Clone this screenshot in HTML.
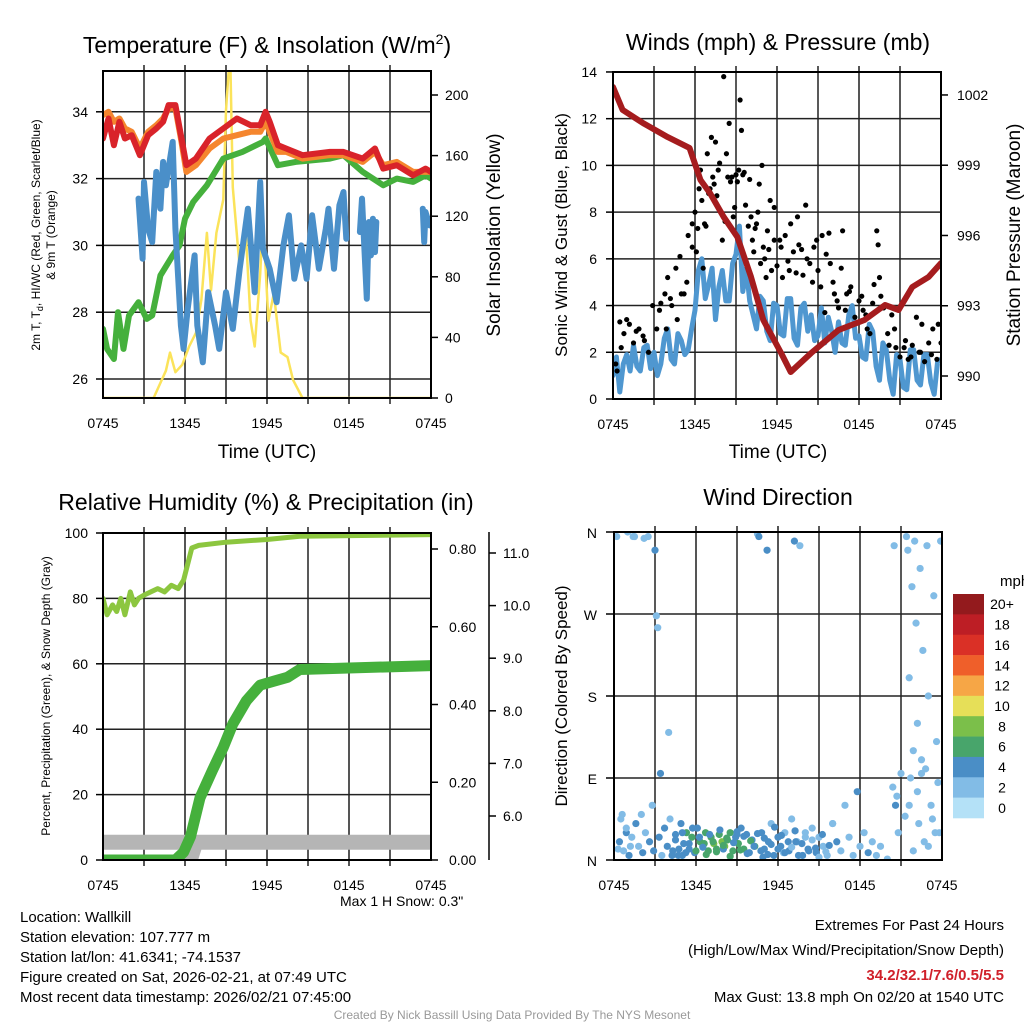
<!DOCTYPE html>
<html><head><meta charset="utf-8"><title>Mesonet Meteogram</title>
<style>
body{margin:0;background:#fff;}
svg{display:block;font-family:"Liberation Sans",sans-serif;}
</style></head>
<body>
<svg id="root" width="1024" height="1024" viewBox="0 0 1024 1024">
<defs>
<clipPath id="c1"><rect x="103" y="71" width="328" height="327"/></clipPath>
<clipPath id="c2"><rect x="613" y="72" width="328" height="327"/></clipPath>
<clipPath id="c3"><rect x="103" y="533" width="328" height="327"/></clipPath>
<clipPath id="c4"><rect x="614" y="532" width="328" height="328"/></clipPath>
</defs>
<g id="grid"></g>
<g id="marks"></g>
<g id="frames"></g>
<g font-size="23" text-anchor="middle" fill="#000">
<text x="267" y="53">Temperature (F) &amp; Insolation (W/m<tspan font-size="14" dy="-9">2</tspan><tspan dy="9">)</tspan></text>
<text x="778" y="50">Winds (mph) &amp; Pressure (mb)</text>
<text x="266" y="510">Relative Humidity (%) &amp; Precipitation (in)</text>
<text x="778" y="505">Wind Direction</text>
</g>
<g font-size="19" text-anchor="middle">
<text x="267" y="458">Time (UTC)</text>
<text x="778" y="458">Time (UTC)</text>
<text transform="translate(500,235) rotate(-90)">Solar Insolation (Yellow)</text>
<text transform="translate(567,235) rotate(-90)" font-size="17">Sonic Wind &amp; Gust (Blue, Black)</text>
<text transform="translate(1020,235) rotate(-90)">Station Pressure (Maroon)</text>
<text transform="translate(567,696) rotate(-90)" font-size="17">Direction (Colored By Speed)</text>
</g>
<g font-size="12" text-anchor="middle">
<text transform="translate(40,235) rotate(-90)">2m T, T<tspan font-size="9" dy="3">d</tspan><tspan dy="-3">, HI/WC (Red, Green, Scarlet/Blue)</tspan></text>
<text transform="translate(55,235) rotate(-90)">&amp; 9m T (Orange)</text>
<text transform="translate(50,696) rotate(-90)">Percent, Precipitation (Green), &amp; Snow Depth (Gray)</text>
</g>
<g font-size="14">
<text x="340" y="906">Max 1 H Snow: 0.3"</text>
<text x="1000" y="586" font-size="15">mph</text>
</g>
<g font-size="15">
<text x="20" y="922">Location: Wallkill</text>
<text x="20" y="942">Station elevation: 107.777 m</text>
<text x="20" y="962">Station lat/lon: 41.6341; -74.1537</text>
<text x="20" y="982">Figure created on Sat, 2026-02-21, at 07:49 UTC</text>
<text x="20" y="1002">Most recent data timestamp: 2026/02/21 07:45:00</text>
</g>
<g font-size="15" text-anchor="end">
<text x="1004" y="930">Extremes For Past 24 Hours</text>
<text x="1004" y="955">(High/Low/Max Wind/Precipitation/Snow Depth)</text>
<text x="1004" y="980" fill="#d0202a" font-weight="bold">34.2/32.1/7.6/0.5/5.5</text>
<text x="1004" y="1002">Max Gust: 13.8 mph On 02/20 at 1540 UTC</text>
</g>
<text x="512" y="1019" font-size="12" fill="#999" text-anchor="middle">Created By Nick Bassill Using Data Provided By The NYS Mesonet</text>
</svg>
<script>
// ---------- data ----------
const timeTicks = ["0745","1345","1945","0145","0745"];
const tempTickVals = [26,28,30,32,34];
const solarTickVals = [0,40,80,120,160,200];
const windTickVals = [0,2,4,6,8,10,12,14];
const presTickVals = [990,993,996,999,1002];
const rhTickVals = [0,20,40,60,80,100];
const precipTickVals = [0,0.2,0.4,0.6,0.8];
const snowTickVals = [6,7,8,9,10,11];
const dirTickLabels = ["N","E","S","W","N"];
const cbLabels = ["20+","18","16","14","12","10","8","6","4","2","0"];
const cbColors = ["#931a1d","#bd1e25","#da3026","#ef5f2a","#f6a646","#e6df58","#7bbf4a","#48a56b","#4a8ec6","#82bce6","#b4e1f7"];

const tRedH = [0,0.4,0.8,1.2,1.6,2.1,2.7,3.3,3.9,4.4,4.8,5.3,5.7,6.1,6.8,7.8,8.8,9.8,10.8,11.5,11.9,12.2,12.8,13.4,14.6,16.6,17.6,19.0,19.9,20.5,21.5,22.7,23.6,24];
const tRed = [33.2,33.8,33.0,33.7,33.2,33.3,32.7,33.3,33.5,33.7,34.2,34.2,33.3,32.4,32.6,33.2,33.5,33.8,33.6,33.6,34.0,33.7,33.0,32.9,32.7,32.8,32.8,32.6,32.9,32.3,32.4,32.1,32.3,32.2];
const tOrange = [33.9,34.0,33.7,33.8,33.5,33.4,32.9,33.4,33.6,33.8,34.1,34.1,33.2,32.2,32.4,32.9,33.2,33.3,33.4,33.4,33.7,33.4,32.8,32.8,32.6,32.7,32.7,32.5,32.8,32.4,32.5,32.2,32.2,32.2];
const tGreenH = [0,0.3,0.8,1.1,1.5,1.9,2.6,3.2,3.6,4.2,5.1,5.6,6.0,6.6,7.6,8.8,10.2,11.7,11.9,12.8,14.1,16.6,17.6,19.0,20.5,21.5,22.7,23.6,24];
const tGreen = [27.5,26.9,26.6,28.0,26.9,27.9,28.3,27.8,27.9,29.1,29.7,30.0,30.8,31.3,31.8,32.6,32.8,33.1,33.2,32.4,32.5,32.6,32.7,32.2,31.8,32.0,31.9,32.1,32.0];
const wcH = [2.6,2.9,3.0,3.3,3.6,3.9,4.2,4.4,4.6,5.1,5.3,5.7,5.9,6.2,6.7,6.9,7.3,7.7,8.2,8.5,9.0,9.5,10.0,10.6,11.1,11.5,11.7,12.2,12.7,13.2,13.6,14.0,14.5,14.9,15.3,15.8,16.3,16.5,16.9,17.3,17.6,17.8];
const wcVal = [31.4,29.6,31.9,30.5,30.1,32.2,31.1,32.5,31.8,33.1,30.5,27.6,26.9,28.1,29.7,27.6,26.5,28.6,27.6,26.9,28.6,27.5,29.3,31.1,28.6,31.9,29.9,29.3,28.3,30.0,30.9,29.0,30.0,29.0,30.9,29.3,30.5,31.1,29.3,31.2,31.6,30.2];
const wcLateH = [18.8,18.95,19.3,19.45,19.6,19.75,19.9,20.0];
const wcLate = [30.4,31.4,28.4,30.7,29.7,30.8,29.8,30.7];
const wcEndH = [23.4,23.5,23.6,23.9,24];
const wcEnd = [31.1,30.1,31.0,30.6,30.8];
const solarH = [0,3.7,4.6,4.9,5.3,5.8,6.3,6.8,7.2,7.6,7.9,8.3,8.8,9.0,9.3,9.5,10.0,10.4,10.8,11.1,11.5,11.7,12.1,12.5,13.0,13.5,13.9,14.6,24];
const solarVal = [0,0,18,30,17,22,34,43,65,109,71,109,131,190,230,139,86,117,51,34,82,119,51,69,30,27,12,0,0];

const windH = [0,0.25,0.5,0.75,1,1.25,1.5,1.75,2,2.25,2.5,2.75,3,3.25,3.5,3.75,4,4.25,4.5,4.75,5,5.25,5.5,5.75,6,6.25,6.5,6.75,7,7.25,7.5,7.75,8,8.25,8.5,8.75,9,9.25,9.5,9.75,10,10.25,10.5,10.75,11,11.25,11.5,11.75,12,12.25,12.5,12.75,13,13.25,13.5,13.75,14,14.25,14.5,14.75,15,15.25,15.5,15.75,16,16.25,16.5,16.75,17,17.25,17.5,17.75,18,18.25,18.5,18.75,19,19.25,19.5,19.75,20,20.25,20.5,20.75,21,21.25,21.5,21.75,22,22.25,22.5,22.75,23,23.25,23.5,23.75,24];
const windVal = [1.0,1.8,0.3,1.5,1.9,1.2,2.3,1.4,1.2,2.2,2.3,1.3,2.0,1.0,1.5,2.6,3.0,1.7,1.5,2.8,2.5,1.9,2.1,3.0,3.8,5.5,6.0,4.3,4.9,5.6,3.4,4.8,5.5,4.2,4.2,5.8,6.2,7.4,4.6,5.6,4.2,3.6,3.0,4.4,4.2,2.9,2.5,4.1,4.0,2.8,2.7,4.3,4.3,2.6,2.3,3.9,4.1,2.9,3.6,2.5,2.7,3.9,2.4,3.5,2.9,2.0,3.3,2.4,2.3,3.6,4.0,2.6,2.7,1.8,1.7,3.2,2.9,1.4,0.8,2.4,2.1,0.8,0.2,1.9,1.7,0.5,0.4,2.1,2.1,0.8,0.6,1.9,1.9,0.7,0.2,1.6,1.7];
const presH = [0,0.7,2.2,4,5.6,6.4,7.1,8.1,9.1,10.1,11,12.3,13,14.5,16.5,18.4,19.9,20.9,21.9,23.1,24];
const presVal = [1002.34,1001.36,1000.80,1000.20,999.74,998.37,997.81,996.79,995.93,994.23,992.39,990.98,990.17,990.98,991.96,992.39,993.03,992.82,993.80,994.23,994.82];
const gustH = [0.2,0.5,0.8,1.2,1.5,1.9,2.3,2.6,2.9,3.2,3.5,3.8,4.0,4.3,4.6,4.9,5.2,5.5,5.8,6.1,6.3,6.5,6.7,6.9,7.1,7.3,7.5,7.7,7.9,8.1,8.3,8.5,8.7,8.9,9.1,9.3,9.5,9.7,9.9,10.1,10.3,10.5,10.7,10.9,11.1,11.3,11.5,11.8,12.0,12.3,12.6,12.9,13.2,13.5,13.8,14.1,14.4,14.7,15.0,15.3,15.6,15.9,16.2,16.5,16.8,17.1,17.4,17.7,18.0,18.3,18.6,19.0,19.3,19.5,19.8,20.1,20.4,20.7,21.0,21.3,21.6,21.9,22.2,22.5,22.8,23.1,23.4,23.7,24.0,
 5.8,6.0,6.2,6.4,6.6,6.8,7.0,7.2,7.4,7.6,7.8,8.0,8.2,8.4,8.6,8.8,9.0,9.2,9.4,9.6,10.0,10.2,10.4,10.6,10.8,11.0,11.2,11.4,11.6,11.8,12.2,12.4,12.8,13.0,13.4,13.6,13.9,14.2,14.6,14.9,15.2,15.5,15.8,16.1,16.4,16.7,17.0,17.3,17.6,18.2,18.5,18.8,19.1,19.4,19.6,20.2,20.6,21.4,21.8,22.4,22.6,23.3,23.8,3.4,3.9,4.2,4.7,5.0,5.4,1.0,1.7,2.2,0.3,0.6];
const gustVal = [1.5,3.3,2.8,3.2,2.4,3.0,2.5,2.0,4.0,3.0,4.1,4.5,5.2,4.0,5.6,6.1,4.5,7.0,6.5,6.3,9.0,8.5,7.5,10.5,9.0,9.5,11.0,9.8,8.0,13.8,10.5,11.8,9.5,8.2,9.3,12.8,9.6,8.3,7.4,7.8,6.3,7.5,9.2,10.0,6.0,7.2,8.5,6.8,5.7,6.5,7.0,5.5,6.3,7.8,6.4,8.3,5.8,6.5,5.5,7.0,6.2,5.8,4.5,3.9,7.2,4.5,4.8,3.5,4.2,3.8,3.0,4.1,7.2,5.2,3.9,2.8,3.6,2.2,1.8,2.2,1.7,2.3,3.5,2.0,1.6,2.4,3.0,1.7,2.4,
 7.5,8.0,7.3,9.8,5.6,7.4,8.8,11.2,9.2,8.7,10.1,6.8,7.6,9.5,9.3,7.8,9.6,9.8,11.5,9.7,9.4,6.8,7.3,8.0,5.8,6.5,5.2,6.4,5.5,8.2,6.8,5.2,5.9,7.5,5.4,6.6,5.3,6.0,5.0,6.8,4.8,3.7,7.1,5.0,4.2,5.6,3.8,4.6,3.2,4.4,3.6,2.8,4.9,6.6,4.4,2.3,3.0,2.5,1.8,2.0,3.2,1.9,3.2,3.8,3.0,4.3,3.4,4.5,5.0,3.4,2.9,2.7,1.2,2.2];

const rhH = [0,0.3,0.7,1,1.3,1.6,2,2.3,2.6,3,3.5,4,4.5,5,5.5,5.9,6.5,7,9,12,14.4,24];
const rhVal = [80,75,78,76,80,75,82,78,80,81,82,83,82,84,83,85.6,95.4,96.2,97.2,98,99,99.5];
const precipH = [0,5.3,5.9,6.4,7.1,8,8.8,9.5,10.5,11.5,12.5,13.5,14.4,24];
const precipVal = [0,0,0.02,0.06,0.16,0.23,0.29,0.35,0.41,0.45,0.46,0.47,0.49,0.5];
const snowH = [0,6.0,6.4,6.8,24];
const snowVal = [5.5,5.5,5.18,5.5,5.5];

const dirH = [0.2,0.4,0.5,0.7,0.9,1.0,1.1,1.3,1.4,1.6,1.8,2.0,2.1,2.3,2.5,2.6,2.8,2.9,3.1,3.2,3.3,3.5,3.7,3.9,4.1,4.3,4.5,4.7,4.9,5.1,5.3,5.5,5.7,5.9,6.1,6.3,6.5,6.7,6.9,7.1,7.3,7.5,7.7,7.9,8.1,8.3,8.5,8.7,8.9,9.1,9.3,9.5,9.7,9.9,10.1,10.3,10.5,10.6,10.8,11.0,11.3,11.5,11.7,12.0,12.2,12.5,12.8,13.0,13.2,13.4,13.6,13.8,14.0,14.2,14.5,14.8,15.0,15.3,15.6,16.0,16.3,16.6,16.9,17.2,17.5,17.8,18.0,18.3,18.6,18.9,19.2,19.5,20.0,20.4,20.6,20.8,21.0,21.4,21.5,21.6,21.7,21.8,21.9,22.0,22.1,22.2,22.3,22.4,22.5,22.6,22.7,22.9,23.0,23.2,23.4,23.6,23.8,23.9,1.5,2.2,3.0,3.4,5.0,6.6,8.0,9.0,10.9,11.2,12.4,13.3,20.5,20.7,22.8,23.5,
 4.0,4.25,4.5,4.75,5.0,5.25,5.5,5.75,6.0,6.25,6.5,6.75,7.0,7.25,7.5,7.75,8.0,8.25,8.5,8.75,9.0,9.25,9.5,9.75,10.0,10.25,10.5,10.75,11.0,11.25,11.5,11.75,12.0,12.25,12.5,12.75,13.0,13.25,13.5,13.75,14.0,14.25,14.5,14.75,15.0,15.25,15.5,15.75,16.0,0.3,0.6,0.9,1.2,21.3,21.6,21.9,22.2,22.5,23.0,23.3,23.7];
const dirVal = [355,20,45,10,30,360,5,25,355,40,15,50,8,30,355,20,60,10,268,255,25,5,35,15,45,10,28,5,40,18,30,12,25,8,35,20,15,30,10,25,18,12,28,20,15,22,30,10,25,18,35,12,28,8,22,15,358,355,30,12,20,40,5,25,15,30,10,45,350,20,345,5,30,12,35,8,25,15,5,40,20,10,60,25,5,75,15,30,8,20,5,15,1,80,60,30,95,355,340,200,90,300,10,350,260,150,40,320,110,230,20,345,180,60,290,130,30,350,355,353,340,95,5,18,12,28,3,340,8,20,345,70,100,30,140,
 5,22,12,30,8,18,35,10,25,14,6,28,20,9,33,16,24,4,19,31,11,26,7,21,15,29,10,24,6,17,36,12,27,8,20,14,32,5,18,25,10,22,13,3,28,9,16,40,12,50,35,15,48,60,120,75,95,15,45,85,20];
const dirSpd = [2,3,2,1,3,2,4,2,2,3,2,2,3,1,2,4,2,3,2,1,3,2,4,3,2,4,3,4,3,4,5,4,5,4,4,6,5,6,5,6,7,6,6,7,8,6,5,5,4,5,4,5,4,3,4,5,2,3,4,3,4,2,3,4,3,2,3,2,3,2,2,3,2,3,2,3,2,2,2,2,3,1,2,2,2,3,2,1,3,2,1,2,2,2,3,2,1,1,2,1,2,1,2,1,2,1,2,1,2,1,2,2,1,2,1,2,2,1,2,2,3,3,4,6,4,3,3,4,2,3,2,1,2,1,
 2,3,4,3,4,4,3,4,5,4,3,5,4,5,6,4,6,5,5,4,4,5,4,4,5,3,4,4,4,3,3,4,3,4,3,3,2,4,3,3,2,3,2,3,2,3,2,3,2,2,2,1,2,2,1,2,1,2,1,2,1];

// ---------- scales ----------
const x1 = h => 103 + h * 328 / 24;
const x2 = h => 613 + h * 328 / 24;
const x4 = h => 614 + h * 328 / 24;
const yT = v => 379 - (v - 26) * 33.4;
const yS = v => 398 - v * 1.515;
const yW = v => 399 - v * 23.36;
const yP = v => 376 - (v - 990) * 23.42;
const yR = v => 860 - v * 3.27;
const yPr = v => 860 - v * 388.75;
const ySn = v => 816 - (v - 6) * 52.6;
const yD = v => 860 - v * 328 / 360;

const NS = "http://www.w3.org/2000/svg";
const G = document.getElementById("grid"), M = document.getElementById("marks"), F = document.getElementById("frames"), R = document.getElementById("root");
function mk(tag, a, parent) { const e = document.createElementNS(NS, tag); for (const k in a) e.setAttribute(k, a[k]); parent.appendChild(e); return e; }

function line(x1_, y1_, x2_, y2_, stroke, w, parent, name) {
  const e = mk("line", {x1:x1_, y1:y1_, x2:x2_, y2:y2_, stroke:stroke, "stroke-width":w}, parent);
  
  
  return e;
}
function text(x, y, s, anchor, size, name) {
  const e = mk("text", {x:x, y:y, "text-anchor":anchor, "font-size":size}, R);
  e.textContent = s;
  
  
  return e;
}
function series(hs, vs, xf, yf, color, w, clip, name) {
  let d = "";
  for (let i = 0; i < hs.length; i++) {
    d += (i ? "L" : "M") + xf(hs[i]).toFixed(1) + " " + yf(vs[i]).toFixed(1);
  }
  const e = mk("path", {d:d, fill:"none", stroke:color, "stroke-width":w, "stroke-linejoin":"round", "stroke-linecap":"round", "clip-path":"url(#" + clip + ")"}, M);
  
  
  return e;
}

// ---------- panels ----------
const panels = [
  {L:103, R:431, T:71, B:398, xf:x1},
  {L:613, R:941, T:72, B:399, xf:x2},
  {L:103, R:431, T:533, B:860, xf:x1},
  {L:614, R:942, T:532, B:860, xf:x4}
];
panels.forEach(p => {
  for (let h = 3; h < 24; h += 3) {
    line(p.xf(h), p.T - 6, p.xf(h), p.B + 6, h % 6 === 0 ? "#555" : "#222", h % 6 === 0 ? 2 : 1.5, G, "vgrid");
  }
  const fr = mk("rect", {x:p.L, y:p.T, width:p.R - p.L, height:p.B - p.T, fill:"none", stroke:"#000", "stroke-width":2}, F);
  
  
  timeTicks.forEach((t, i) => {
    text(p.xf(i * 6), p.B + 30, t, "middle", 14, "x-tick-label");
  });
});

tempTickVals.forEach(v => {
  line(103, yT(v), 431, yT(v), "#222", 1.5, G, "temp-hgrid");
  text(88, yT(v) + 5, String(v), "end", 14, "temp-tick-label");
  line(96, yT(v), 103, yT(v), "#000", 1.5, F, "temp-tick");
});
solarTickVals.forEach(v => {
  text(445, yS(v) + 5, String(v), "start", 14, "solar-tick-label");
  line(431, yS(v), 438, yS(v), "#000", 1.5, F, "solar-tick");
});
windTickVals.forEach(v => {
  if (v > 0 && v < 14) line(613, yW(v), 941, yW(v), "#222", 1.5, G, "wind-hgrid");
  text(597, yW(v) + 5, String(v), "end", 14, "wind-tick-label");
  line(606, yW(v), 613, yW(v), "#000", 1.5, F, "wind-tick");
});
presTickVals.forEach(v => {
  text(957, yP(v) + 5, String(v), "start", 14, "pressure-tick-label");
  line(941, yP(v), 948, yP(v), "#000", 1.5, F, "pressure-tick");
});
rhTickVals.forEach(v => {
  if (v > 0 && v < 100) line(103, yR(v), 431, yR(v), "#222", 1.5, G, "rh-hgrid");
  text(88, yR(v) + 5, String(v), "end", 14, "rh-tick-label");
  line(96, yR(v), 103, yR(v), "#000", 1.5, F, "rh-tick");
});
precipTickVals.forEach(v => {
  text(449, yPr(v) + 5, v.toFixed(2), "start", 14, "precip-tick-label");
  line(431, yPr(v), 438, yPr(v), "#000", 1.5, F, "precip-tick");
});
line(489, 532, 489, 860, "#000", 1.5, F, "snow-axis-spine");
snowTickVals.forEach(v => {
  text(503, ySn(v) + 5, v.toFixed(1), "start", 14, "snow-tick-label");
  line(489, ySn(v), 496, ySn(v), "#000", 1.5, F, "snow-tick");
});
dirTickLabels.forEach((s, i) => {
  const v = i * 90;
  if (i > 0 && i < 4) line(614, yD(v), 942, yD(v), "#222", 1.5, G, "dir-hgrid");
  line(606, yD(v), 614, yD(v), "#000", 1.5, F, "dir-tick");
  text(597, yD(v) + 6, s, "end", 14, "dir-tick-label");
});
const cbTop = 594, cbH = 224 / cbColors.length;
cbColors.forEach((c, i) => {
  const r = mk("rect", {x:953, y:cbTop + i * cbH, width:31, height:cbH + 0.3, fill:c}, R);
  
  
  text(1002, cbTop + i * cbH + cbH / 2 + 5, cbLabels[i], "middle", 14, "colorbar-label");
});

// ---------- marks ----------
series(solarH, solarVal, x1, yS, "#fbe35a", 2.5, "c1", "solar-line");
series(tGreenH, tGreen, x1, yT, "#45b03c", 6, "c1", "dewpoint-line");
series(tRedH, tOrange, x1, yT, "#f5862e", 6, "c1", "temp-9m-line");
series(tRedH, tRed, x1, yT, "#d9232a", 6, "c1", "temp-2m-line");
series(wcH, wcVal, x1, yT, "#4a8fc9", 6, "c1", "windchill-line");
series(wcLateH, wcLate, x1, yT, "#4a8fc9", 6, "c1", "windchill-late-line");
series(wcEndH, wcEnd, x1, yT, "#4a8fc9", 6, "c1", "windchill-end-line");

series(windH, windVal, x2, yW, "#4f97d0", 5, "c2", "wind-speed-line");
gustH.forEach((h, i) => {
  const c = mk("circle", {cx:x2(h), cy:yW(gustVal[i]), r:2.6, fill:"#000", "clip-path":"url(#c2)"}, M);
  
  
});
series(presH, presVal, x2, yP, "#a51c1e", 6, "c2", "pressure-line");

series(rhH, rhVal, x1, yR, "#8cc63f", 5, "c3", "rh-line");
series(snowH, snowVal, x1, ySn, "#b5b5b5", 15, "c3", "snow-depth-line");
series(precipH, precipVal, x1, yPr, "#45b03c", 11, "c3", "precip-line");

function spdColor(s) { return s < 1 ? cbColors[10] : s < 3 ? cbColors[9] : s < 5 ? cbColors[8] : s < 7 ? cbColors[7] : s < 9 ? cbColors[6] : cbColors[5]; }
dirH.forEach((h, i) => {
  const c = mk("circle", {cx:x4(h), cy:yD(dirVal[i]), r:3.6, fill:spdColor(dirSpd[i]), "clip-path":"url(#c4)"}, M);
  
  
});
</script>
</body></html>
